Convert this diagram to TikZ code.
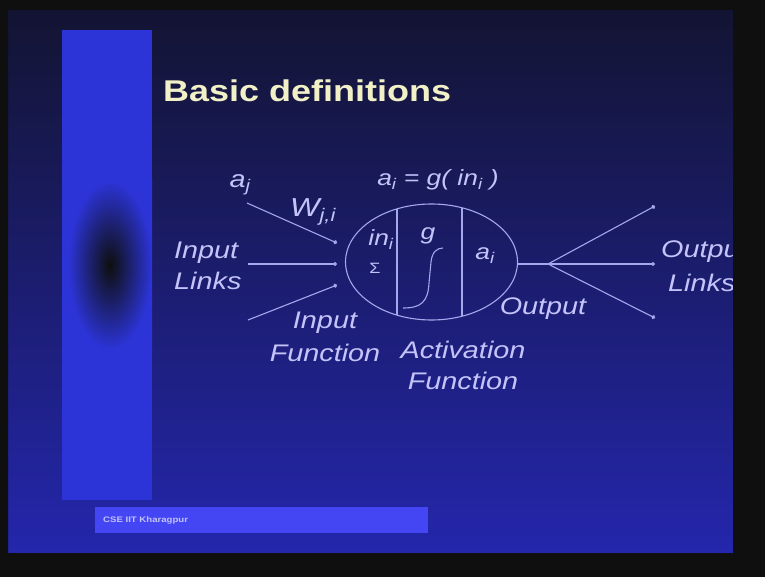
\documentclass[tikz,border=0pt]{standalone}
\usepackage{fontspec}
\setmainfont{Liberation Sans}
\newfontfamily\slidefont[FakeStretch=1.2]{Liberation Sans}
\usetikzlibrary{arrows.meta,shapes.geometric}
\definecolor{frame}{HTML}{0E0F0E}
\definecolor{bgtop}{HTML}{131432}
\definecolor{bgmid}{HTML}{1C1D7E}
\definecolor{bgbot}{HTML}{2426AC}
\definecolor{barblue}{HTML}{2C34D8}
\definecolor{foot}{HTML}{4446F4}
\definecolor{txt}{HTML}{C4C4FA}
\definecolor{wirecol}{HTML}{A6A8EE}
\definecolor{ttl}{HTML}{F2F0C6}
\begin{document}
\begin{tikzpicture}[x=1pt,y=-1pt,
  lbl/.style={font=\slidefont\itshape\fontsize{24}{26}\selectfont, text=txt, inner sep=0pt},
  wire/.style={draw=wirecol, line width=1.1pt},
  link/.style={wire, -{Circle[length=4pt]}},
]
\useasboundingbox (0,0) rectangle (765,577);
% slide background
\shade[top color=bgtop, middle color=bgmid, bottom color=bgbot] (8,10) rectangle (733,553);
% left bar
\fill[barblue] (62,30) rectangle (152,500);
\shade[inner color=frame, outer color=barblue] (68,180) rectangle (152,350);
% footer
\fill[foot] (95,507) rectangle (428,533);
\node[font=\slidefont\bfseries\fontsize{8}{9}\selectfont, text=txt, anchor=west, inner sep=0pt] (footer) at (103,520) {CSE IIT Kharagpur};
% title
\node[font=\slidefont\bfseries\fontsize{30}{32}\selectfont, text=ttl, anchor=base west, inner sep=0pt] (title) at (163,102) {Basic definitions};
% neuron
\node[ellipse, wire, minimum width=172pt, minimum height=116pt, inner sep=0pt] (neuron) at (431.5,262) {};
\draw[wire] (397,209) -- (397,315);
\draw[wire] (462,208) -- (462,316);
\draw[wire] (403,308) .. controls (421,308) and (428,302) .. (429,283) -- (431,262) .. controls (432,252) and (437,248) .. (443,248);
% input links
\coordinate (i1s) at (247,203); \coordinate (i1e) at (337,243);
\coordinate (i2s) at (248,264); \coordinate (i2e) at (337,264);
\coordinate (i3s) at (248,320); \coordinate (i3e) at (337,285);
\draw[link] (i1s) -- (i1e);
\draw[link] (i2s) -- (i2e);
\draw[link] (i3s) -- (i3e);
% output links
\coordinate (br) at (548,264);
\coordinate (o1) at (655,206); \coordinate (o2) at (655,264); \coordinate (o3) at (655,318);
\draw[wire] (neuron.east |- br) -- (br);
\draw[link] (br) -- (o1);
\draw[link] (br) -- (o2);
\draw[link] (br) -- (o3);
% labels
\node[lbl] (aj) at (240,185) {a\textsubscript{j}};
\node[lbl, font=\slidefont\itshape\fontsize{26}{28}\selectfont] (wji) at (313,212) {W\textsubscript{j,i}};
\node[lbl, anchor=west] (inl1) at (174,253) {Input};
\node[lbl, anchor=west] (inl2) at (174,281) {Links};
\node[lbl, font=\slidefont\itshape\fontsize{22}{24}\selectfont] (ini) at (381,240) {in\textsubscript{i}};
\node[lbl, font=\slidefont\fontsize{15}{16}\selectfont] (sig) at (375,268) {Σ};
\node[lbl, font=\slidefont\itshape\fontsize{22}{24}\selectfont] (g) at (428,236) {g};
\node[lbl, font=\slidefont\itshape\fontsize{22}{24}\selectfont] (ai) at (485,256) {a\textsubscript{i}};
\node[lbl, font=\slidefont\itshape\fontsize{22}{24}\selectfont] (eq) at (438,180) {a\textsubscript{i} = g( in\textsubscript{i} )};
\node[lbl] (outp) at (543,309) {Output};
\node[lbl] (if1) at (325,323) {Input};
\node[lbl] (if2) at (325,353) {Function};
\node[lbl] (af1) at (463,350) {Activation};
\node[lbl] (af2) at (463,381) {Function};
\node[lbl, anchor=west] (ol1) at (661,252) {Output};
\node[lbl, anchor=west] (ol2) at (668,283) {Links};
% black surround (clips right-hand text)
\fill[frame, even odd rule] (0,0) rectangle (765,577) (8,10) rectangle (733,553);
\end{tikzpicture}
\end{document}
